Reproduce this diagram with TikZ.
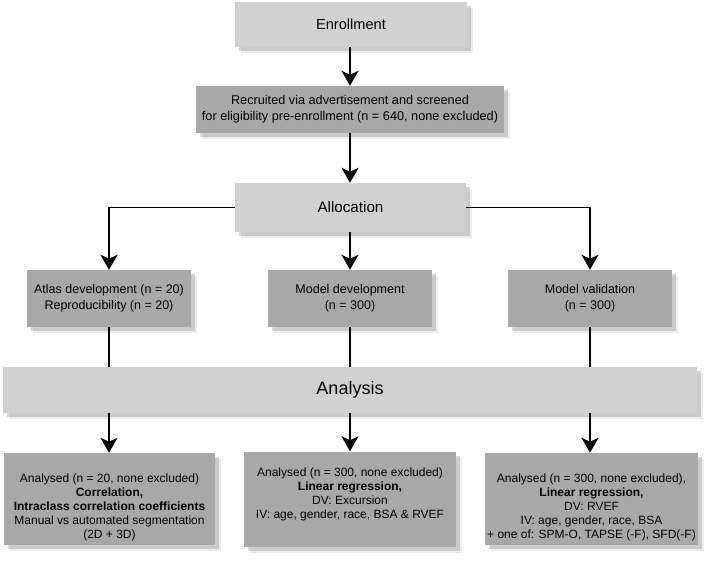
\documentclass[tikz,border=0pt]{standalone}
\usepackage{fontspec}
\setmainfont{Liberation Sans}
\usetikzlibrary{arrows.meta,shadows}
\definecolor{boxlight}{gray}{0.82}
\definecolor{boxdark}{gray}{0.66}
\tikzset{
  lightbox/.style={fill=boxlight,inner sep=0pt,align=center,
    drop shadow={shadow xshift=6pt,shadow yshift=-6pt,opacity=0.15},
    drop shadow={shadow xshift=4pt,shadow yshift=-4pt,opacity=0.3}},
  darkbox/.style={lightbox,fill=boxdark,font=\fontsize{12.5}{16}\selectfont},
  resbox/.style={darkbox,minimum height=92,font=\fontsize{12}{14}\selectfont},
  link/.style={line width=1.5pt},
}
\begin{document}
\begin{tikzpicture}[x=1pt,y=-1pt,line join=round,>={Stealth[length=15pt,width=17pt,inset=4pt]}]
\useasboundingbox (0,0) rectangle (709,561);
% top of the chart
\node[lightbox,minimum width=232,minimum height=45,font=\fontsize{14.6}{16}\selectfont] (enroll) at (351,24.5) {Enrollment};
\node[darkbox,minimum width=308,minimum height=47,font=\fontsize{12.7}{16}\selectfont] (recruit) at (350,109.5) {Recruited via advertisement and screened\\for eligibility pre-enrollment (n = 640, none excluded)};
\node[lightbox,minimum width=231,minimum height=49,font=\fontsize{15.2}{17}\selectfont] (alloc) at (350.5,207.5) {Allocation};
% groups
\node[darkbox,minimum width=164,minimum height=57] (atlas) at (109,298.5) {Atlas development (n = 20)\\Reproducibility (n = 20)};
\node[darkbox,minimum width=164,minimum height=57] (moddev) at (350,298.5) {Model development\\(n = 300)};
\node[darkbox,minimum width=164,minimum height=57] (modval) at (590,298.5) {Model validation\\(n = 300)};
\node[lightbox,minimum width=694,minimum height=46,font=\fontsize{18}{20}\selectfont] (analysis) at (350,390) {Analysis};
% results
\node[resbox,minimum width=211] (resatlas) at (109.5,499) {\\[11pt]Analysed (n = 20, none excluded)\\\textbf{Correlation,}\\\textbf{Intraclass correlation coefficients}\\Manual vs automated segmentation\\(2D + 3D)};
\node[resbox,minimum width=212] (resdev) at (350,499) {\\[11pt]Analysed (n = 300, none excluded)\\\textbf{Linear regression,}\\DV: Excursion\\IV: age, gender, race, BSA \& RVEF\\[14pt]};
\node[resbox,minimum width=213] (resval) at (591.5,499) {\\[11pt]Analysed (n = 300, none excluded),\\\textbf{Linear regression,}\\DV: RVEF\\IV: age, gender, race, BSA\\+ one of: SPM-O, TAPSE (-F), SFD(-F)};
% connectors
\draw[link,->] (enroll.south -| 350,0) -- (recruit.north);
\draw[link,->] (recruit.south) -- (alloc.north -| 350,0);
\draw[link,->] (alloc.west) -| (atlas.north);
\draw[link,->] (alloc.south -| moddev.north) -- (moddev.north);
\draw[link,->] (alloc.east) -| (modval.north);
\draw[link] (atlas.south) -- (atlas.south |- analysis.north);
\draw[link] (moddev.south) -- (moddev.south |- analysis.north);
\draw[link] (modval.south) -- (modval.south |- analysis.north);
\draw[link,->] (analysis.south -| atlas.south) -- (resatlas.north -| atlas.south);
\draw[link,->] (analysis.south -| moddev.north) -- (resdev.north -| moddev.north);
\draw[link,->] (analysis.south -| modval.south) -- (resval.north -| modval.south);
\end{tikzpicture}
\end{document}
